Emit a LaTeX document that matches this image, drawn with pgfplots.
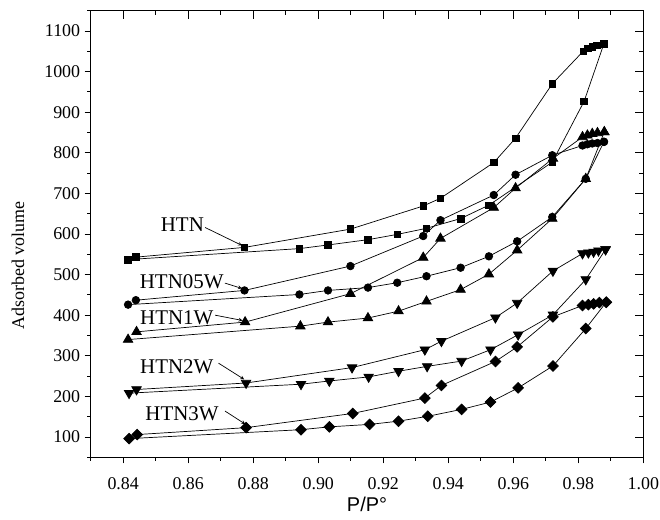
\documentclass[border=0pt]{standalone}
\usepackage{pgfplots}
\pgfplotsset{compat=1.18}
\usepackage{fontspec}
\setmainfont{Liberation Serif}
\newfontfamily\sansf{Liberation Sans}
\begin{document}
\begin{tikzpicture}
\useasboundingbox (0,0) rectangle (660bp,520bp);
\pgfplotsset{
  myaxis/.style={at={(90.7bp,62.7bp)}, anchor=south west, scale only axis,
    width=552.6bp, height=446.6bp, xmin=0.83, xmax=1.00, ymin=50, ymax=1150,
    xtick={0.84,0.86,0.88,0.90,0.92,0.94,0.96,0.98,1.00},
    minor xtick={0.83,0.85,0.87,0.89,0.91,0.93,0.95,0.97,0.99},
    ytick={100,200,300,400,500,600,700,800,900,1000,1100},
    minor ytick={50,150,250,350,450,550,650,750,850,950,1050,1150},
    axis line style={line width=1bp},
    tick style={line width=0.8bp, black},
  },
  ser/.style={black, line width=0.7bp, mark options={solid, fill=black}},
}
\begin{axis}[myaxis, tick align=outside, xtick pos=left, ytick pos=left,
  major tick length=6bp, minor tick length=3.5bp,
  xticklabels={0.84,0.86,0.88,0.90,0.92,0.94,0.96,0.98,1.00},
  yticklabels={100,200,300,400,500,600,700,800,900,1000,1100},
  ticklabel style={font=\fontsize{18}{18}\selectfont},
  every x tick label/.append style={anchor=center, yshift=-20bp},
  yticklabel shift=1bp,
  xlabel={\sansf P/P°},
  every axis x label/.style={at={(axis description cs:0.5,0)}, anchor=center, yshift=-47bp, font=\fontsize{20}{20}\selectfont},
  ylabel={Adsorbed volume},
  every axis y label/.style={at={(axis description cs:-0.1316,0.43)}, rotate=90, anchor=center, font=\fontsize{18}{18}\selectfont},
  clip=false]
% HTN
\addplot[ser, mark=square*, mark size=3.3bp] coordinates {
(0.8415,537)(0.8942,564)(0.9030,573)(0.9153,586)(0.9243,599)(0.9333,614)(0.9438,638)(0.9525,671)(0.9720,777)(0.9818,927)(0.9879,1069)};
\addplot[ser, mark=square*, mark size=3.3bp] coordinates {
(0.9879,1069)(0.9857,1065)(0.9843,1061)(0.9830,1057)(0.9815,1050)(0.9720,970)(0.9607,836)(0.9540,776)(0.9376,688)(0.9323,669)(0.9099,612)(0.8773,567)(0.8439,543)};
% HTN05W
\addplot[ser, mark=*, mark size=3.8bp] coordinates {
(0.8415,426)(0.8942,451)(0.9030,461)(0.9153,468)(0.9243,480)(0.9333,496)(0.9438,517)(0.9525,545)(0.9612,582)(0.9720,642)(0.9823,736)(0.9879,827)};
\addplot[ser, mark=*, mark size=3.8bp] coordinates {
(0.9879,827)(0.9859,824)(0.9843,823)(0.9828,821)(0.9813,818)(0.9720,794)(0.9607,746)(0.9540,696)(0.9376,634)(0.9323,595)(0.9099,521)(0.8773,461)(0.8439,437)};
% HTN1W
\addplot[ser, mark=triangle*, mark size=5.5bp] coordinates {
(0.8415,340)(0.8945,373)(0.9030,383)(0.9153,393)(0.9247,410)(0.9333,434)(0.9438,463)(0.9525,501)(0.9612,560)(0.9720,638)(0.9823,736)(0.9880,851)};
\addplot[ser, mark=triangle*, mark size=5.5bp] coordinates {
(0.9880,851)(0.9859,849)(0.9843,847)(0.9828,843)(0.9813,839)(0.9722,786)(0.9607,713)(0.9540,665)(0.9376,589)(0.9323,542)(0.9099,453)(0.8775,383)(0.8441,359)};
% HTN2W
\addplot[ser, mark=triangle*, mark size=5.5bp, mark options={rotate=180}] coordinates {
(0.8418,208)(0.8947,230)(0.9034,238)(0.9155,248)(0.9247,262)(0.9335,274)(0.9441,287)(0.9530,315)(0.9615,352)(0.9722,401)(0.9823,488)(0.9884,562)};
\addplot[ser, mark=triangle*, mark size=5.5bp, mark options={rotate=180}] coordinates {
(0.9884,562)(0.9862,559)(0.9847,556)(0.9831,554)(0.9813,552)(0.9722,509)(0.9612,430)(0.9545,394)(0.9379,336)(0.9328,315)(0.9104,271)(0.8778,233)(0.8441,217)};
% HTN3W
\addplot[ser, mark=square*, mark size=3.8bp, mark options={rotate=45}] coordinates {
(0.8418,96)(0.8947,118)(0.9034,125)(0.9158,131)(0.9247,139)(0.9337,151)(0.9441,168)(0.9530,186)(0.9615,221)(0.9722,275)(0.9823,367)(0.9886,432)};
\addplot[ser, mark=square*, mark size=3.8bp, mark options={rotate=45}] coordinates {
(0.9886,432)(0.9865,431)(0.9847,428)(0.9831,426)(0.9813,424)(0.9722,396)(0.9612,322)(0.9545,286)(0.9379,227)(0.9328,196)(0.9106,158)(0.8778,123)(0.8443,106)};
% labels
\begin{scope}[every node/.style={font=\fontsize{21}{21}\selectfont, inner sep=0pt, anchor=center}]
\node at (axis cs:0.8582,623) {HTN};
\node at (axis cs:0.8580,483) {HTN05W};
\node at (axis cs:0.8565,394) {HTN1W};
\node at (axis cs:0.8565,272) {HTN2W};
\node at (axis cs:0.8581,157) {HTN3W};
\end{scope}
\begin{scope}[line width=0.7bp, -stealth]
\draw (axis cs:0.8652,616) -- (axis cs:0.8765,572);
\draw (axis cs:0.8713,479) -- (axis cs:0.8765,466);
\draw (axis cs:0.8683,400) -- (axis cs:0.8767,387);
\draw (axis cs:0.8693,282) -- (axis cs:0.8772,242);
\draw (axis cs:0.8713,164) -- (axis cs:0.8775,132);
\end{scope}
\end{axis}
\begin{axis}[myaxis, tick align=inside, xtick pos=right, ytick pos=right,
  major tick length=8bp, minor tick length=4bp,
  xticklabels={}, yticklabels={}]
\end{axis}
\end{tikzpicture}
\end{document}
